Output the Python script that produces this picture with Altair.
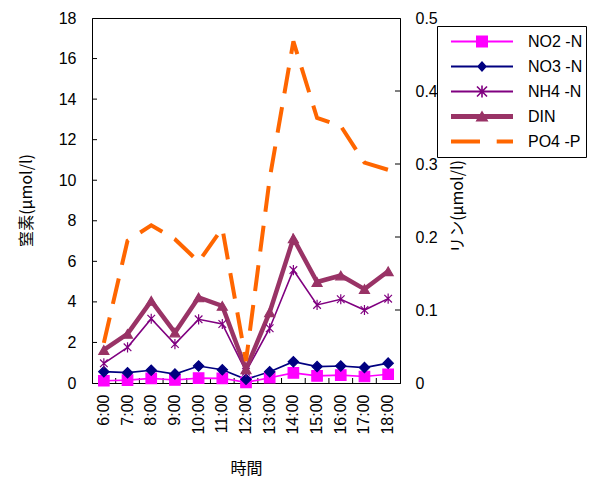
import altair as alt
import pandas as pd

# Sampling times and measured concentrations
times = ["6:00", "7:00", "8:00", "9:00", "10:00", "11:00", "12:00",
         "13:00", "14:00", "15:00", "16:00", "17:00", "18:00"]
no2 = [0.11, 0.14, 0.23, 0.15, 0.24, 0.23, 0.03, 0.26, 0.50, 0.35, 0.39, 0.32, 0.43]
no3 = [0.56, 0.51, 0.63, 0.44, 0.84, 0.65, 0.18, 0.56, 1.05, 0.81, 0.84, 0.76, 0.98]
nh4 = [0.97, 1.76, 3.17, 1.92, 3.14, 2.91, 0.56, 2.70, 5.57, 3.85, 4.13, 3.60, 4.16]
din = [1.63, 2.42, 4.05, 2.49, 4.22, 3.80, 0.68, 3.49, 7.13, 4.98, 5.30, 4.63, 5.51]
po4 = [0.055, 0.195, 0.216, 0.197, 0.166, 0.212, 0.030, 0.280, 0.468, 0.363, 0.352, 0.302, 0.292]

series_names = ["NO2 -N", "NO3 -N", "NH4 -N", "DIN", "PO4 -P"]
n_series = series_names[:4]
colors = ["#FF00FF", "#000080", "#800080", "#993366", "#FF6600"]

left_ticks = [0, 2, 4, 6, 8, 10, 12, 14, 16, 18]
right_ticks = [0, 0.1, 0.2, 0.3, 0.4, 0.5]

W, H = 308, 365
NUM_FONT = "Liberation Sans"
JP_FONT = "Noto Sans CJK JP"

n_df = pd.DataFrame({
    "time": times * 4,
    "series": sum([[s] * len(times) for s in n_series], []),
    "value": no2 + no3 + nh4 + din,
})
p_df = pd.DataFrame({"time": times, "value": po4})

x_scale = alt.Scale(type="band", domain=times, paddingInner=0, paddingOuter=0)
x_axis = alt.Axis(title="時間", labelAngle=270, labelPadding=11, ticks=False,
                  labelFont=NUM_FONT, labelFontSize=16, labelColor="black",
                  titleFont=JP_FONT, titleFontSize=16, titleFontWeight="normal",
                  titleColor="black", titleY=85, titleBaseline="middle",
                  domainColor="black")
x_enc = alt.X("time:N", sort=times, scale=x_scale, axis=x_axis)

left_scale = alt.Scale(domain=[0, 18], nice=False, zero=True)
right_scale = alt.Scale(domain=[0, 0.5], nice=False, zero=True)

left_axis = alt.Axis(title="窒素(μmol/l)", values=left_ticks, ticks=False,
                     labelPadding=16, labelFont=NUM_FONT, labelFontSize=16,
                     labelColor="black", grid=False, domainColor="black",
                     titleFont=JP_FONT, titleFontSize=16, titleFontWeight="normal",
                     titleColor="black", titleAngle=270, titleX=-66, titleY=182,
                     titleAlign="center", titleBaseline="middle")
right_axis = alt.Axis(title="リン(μmol/l)", orient="right", values=right_ticks,
                      format="~g", ticks=False, labelPadding=15,
                      labelFont=NUM_FONT, labelFontSize=16, labelColor="black",
                      grid=False, domainColor="black",
                      titleFont=JP_FONT, titleFontSize=16, titleFontWeight="normal",
                      titleColor="black", titleAngle=270, titleX=57, titleY=188,
                      titleAlign="center", titleBaseline="middle")
y_left = alt.Y("value:Q", scale=left_scale, axis=left_axis)
y_right = alt.Y("value:Q", scale=right_scale, axis=right_axis)

# asterisk marker for NH4
asterisk = "M0,-1V1M-0.75,-0.75L0.75,0.75M-0.75,0.75L0.75,-0.75"

base = alt.Chart(n_df).encode(
    x=x_enc,
    y=y_left,
    color=alt.Color("series:N", scale=alt.Scale(domain=n_series, range=colors[:4]), legend=None),
)

lines = base.mark_line().encode(
    strokeWidth=alt.condition("datum.series == 'DIN'", alt.value(4.5), alt.value(1.6))
)

points = base.mark_point(filled=True, opacity=1, strokeWidth=1.2).encode(
    shape=alt.Shape("series:N",
                    scale=alt.Scale(domain=n_series,
                                    range=["square", "diamond", asterisk, "triangle-up"]),
                    legend=None),
    stroke=alt.Stroke("series:N", scale=alt.Scale(domain=n_series, range=colors[:4]), legend=None),
    size=alt.Size("series:N", scale=alt.Scale(domain=n_series, range=[110, 100, 121, 150]),
                  legend=None),
)

# inner tick marks on the left and bottom edges
lt = alt.Chart(pd.DataFrame({"value": left_ticks[1:-1]})).mark_rule(color="black").encode(
    y=y_left, x=alt.value(0), x2=alt.value(5),
)
bt = alt.Chart(pd.DataFrame({"time": times[1:]})).mark_rule(color="black").encode(
    x=alt.X("time:N", sort=times, bandPosition=0, scale=x_scale, axis=x_axis),
    y=alt.value(H), y2=alt.value(H - 5),
)

# legend symbols: a line sample with the series marker in the middle
K = 31.0


def u(px):
    return px / K


def fmt(v):
    return f"{v:.3f}"


def rect(x0, x1, y0, y1):
    return f"M{fmt(x0)},{fmt(y0)}H{fmt(x1)}V{fmt(y1)}H{fmt(x0)}Z"


def poly(pts):
    area = 0
    for i in range(len(pts)):
        x1, y1 = pts[i]
        x2, y2 = pts[(i + 1) % len(pts)]
        area += x1 * y2 - x2 * y1
    if area < 0:
        pts = pts[::-1]
    return "M" + "L".join(f"{fmt(x)},{fmt(y)}" for x, y in pts) + "Z"


def seg(ax, ay, bx, by, t):
    dx, dy = bx - ax, by - ay
    ln = (dx * dx + dy * dy) ** 0.5
    nx, ny = -dy / ln * t / 2, dx / ln * t / 2
    return poly([(ax + nx, ay + ny), (bx + nx, by + ny), (bx - nx, by - ny), (ax - nx, ay - ny)])


legend_paths = [
    rect(-1, 1, -u(1), u(1)) + rect(-u(6), u(6), -u(6), u(6)),
    rect(-1, 1, -u(1), u(1)) + poly([(0, -u(5.5)), (u(5), 0), (0, u(5.5)), (-u(5), 0)]),
    rect(-1, 1, -u(0.9), u(0.9)) + seg(0, -u(6), 0, u(6), u(1.6))
    + seg(-u(5), -u(5), u(5), u(5), u(1.6)) + seg(-u(5), u(5), u(5), -u(5), u(1.6)),
    rect(-1, 1, -u(2.5), u(2.5)) + poly([(0, -u(6)), (u(6.5), u(5)), (-u(6.5), u(5))]),
    rect(-1, -u(2), -u(2), u(2)) + rect(u(14.7), 1, -u(2), u(2)),
]

legend_def = alt.Legend(
    title=None, orient="none", legendX=345, legendY=8, direction="vertical",
    symbolSize=(2 * K) ** 2, clipHeight=25, rowPadding=0, padding=3,
    strokeColor="black", fillColor="white", symbolOffset=11, labelOffset=15,
    labelFont=NUM_FONT, labelFontSize=16, labelColor="black",
    symbolStrokeWidth=0, symbolOpacity=1,
    labelExpr="datum.label + '    '",
)

legend_layer = alt.Chart(pd.DataFrame({"series": series_names})).transform_filter(
    "false"
).mark_point(filled=True, opacity=1).encode(
    color=alt.Color("series:N", scale=alt.Scale(domain=series_names, range=colors), legend=legend_def),
    shape=alt.Shape("series:N", scale=alt.Scale(domain=series_names, range=legend_paths), legend=legend_def),
)

n_group = alt.layer(lt, bt, lines, points, legend_layer).resolve_scale(
    color="independent", shape="independent"
)

# phosphate on the secondary axis
rt = alt.Chart(pd.DataFrame({"value": right_ticks[1:-1]})).mark_rule(color="black").encode(
    y=y_right, x=alt.value(W), x2=alt.value(W - 5),
)
p_line = alt.Chart(p_df).mark_line(color=colors[4], strokeWidth=4,
                                   strokeDash=[26, 14], strokeCap="butt").encode(
    x=x_enc,
    y=y_right,
)
p_group = alt.layer(rt, p_line)

chart = alt.layer(n_group, p_group).resolve_scale(y="independent").properties(
    width=W, height=H,
    autosize=alt.AutoSizeParams(type="none"),
    padding={"left": 92, "top": 18, "right": 192, "bottom": 97},
    background="white",
).configure_view(stroke="black", strokeWidth=1)

chart.save("out.html", embed_options={"renderer": "svg", "actions": False})
